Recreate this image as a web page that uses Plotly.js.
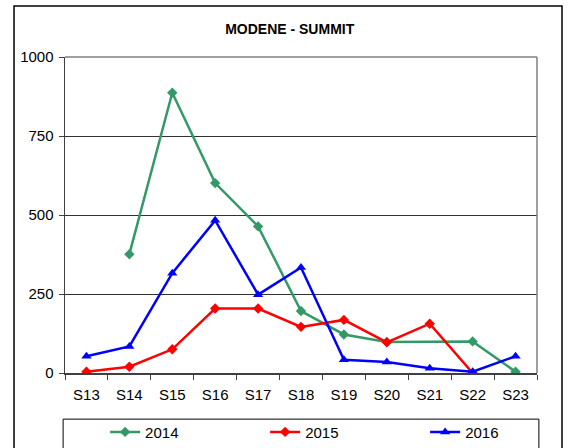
<!DOCTYPE html>
<html>
<head>
<meta charset="utf-8">
<script src="https://cdn.plot.ly/plotly-3.0.1.min.js"></script>
<style>html,body{margin:0;padding:0;background:#fff;}#chart{width:568px;height:448px;}</style>
</head>
<body>
<div id="chart"></div>
<script>
const weeks = ["S13","S14","S15","S16","S17","S18","S19","S20","S21","S22","S23"];
const values2014 = [null, 376, 887, 601, 464, 196, 122, 98, null, 100, 4];
const values2015 = [4, 20, 75, 204, 204, 146, 168, 97, 156, 0, null];
const values2016 = [53, 84, 316, 483, 248, 334, 42, 35, 15, 4, 53];
const yTicks = [0, 250, 500, 750, 1000];

const font = "Liberation Sans, Arial, sans-serif";

const traces = [
  {x: weeks, y: values2014, name: "2014", type: "scatter", mode: "lines+markers", connectgaps: true, legend: "legend",
   line: {color: "#339966", width: 2.5}, marker: {symbol: "diamond", size: 8, color: "#339966"}},
  {x: weeks, y: values2015, name: "2015", type: "scatter", mode: "lines+markers", legend: "legend2",
   line: {color: "#FF0000", width: 2.5}, marker: {symbol: "diamond", size: 8, color: "#FF0000"}},
  {x: weeks, y: values2016, name: "2016", type: "scatter", mode: "lines+markers", legend: "legend3",
   line: {color: "#0000FF", width: 2.5}, marker: {symbol: "triangle-up", size: 9, color: "#0000FF"}}
];

function leg(x) {
  return {orientation: "h", x: x, xanchor: "left", y: -0.135, yanchor: "top", bgcolor: "rgba(0,0,0,0)",
          font: {family: font, size: 15, color: "#000"}};
}

const layout = {
  width: 568, height: 448,
  margin: {l: 65, r: 31, t: 57, b: 75, autoexpand: false},
  paper_bgcolor: "#fff", plot_bgcolor: "#fff",
  font: {family: font, size: 15, color: "#000"},
  title: {text: "<b>MODENE - SUMMIT</b>", x: 0.51, xanchor: "center", y: 0.935, yanchor: "middle",
          font: {family: font, size: 14, color: "#000"}},
  showlegend: true,
  legend: leg(0.085),
  legend2: leg(0.424),
  legend3: leg(0.763),
  xaxis: {type: "category", categoryorder: "array", categoryarray: weeks, range: [-0.5, 10.5],
          showline: true, linecolor: "#404040", linewidth: 1.5, showgrid: false, zeroline: false,
          ticks: "outside", tickson: "boundaries", ticklen: 5, tickcolor: "#404040", ticklabelstandoff: 7,
          tickfont: {family: font, size: 15, color: "#000"}, fixedrange: true},
  yaxis: {range: [0, 1000], tickvals: yTicks, ticktext: yTicks.map(String),
          showline: true, linecolor: "#404040", linewidth: 1.5, showgrid: true, gridcolor: "#333", gridwidth: 1,
          zeroline: false, ticks: "outside", ticklen: 5, tickcolor: "#404040", ticklabelstandoff: 2,
          tickfont: {family: font, size: 15, color: "#000"}, fixedrange: true},
  shapes: [
    {type: "line", xref: "paper", yref: "paper", x0: 0, x1: 1, y0: 1, y1: 1, line: {color: "#808080", width: 1.5}},
    {type: "line", xref: "paper", yref: "paper", x0: 1, x1: 1, y0: 0, y1: 1, line: {color: "#808080", width: 1.5}},
    {type: "rect", xref: "paper", yref: "paper", x0: -0.108, x1: 1.053, y0: -0.3, y1: 1.161, line: {color: "#000", width: 1.5}},
    {type: "rect", xref: "paper", yref: "paper", x0: -0.004, x1: 1.004, y0: -0.3, y1: -0.146, line: {color: "#000", width: 1}}
  ]
};

Plotly.newPlot("chart", traces, layout, {displayModeBar: false, staticPlot: true});
</script>
</body>
</html>
